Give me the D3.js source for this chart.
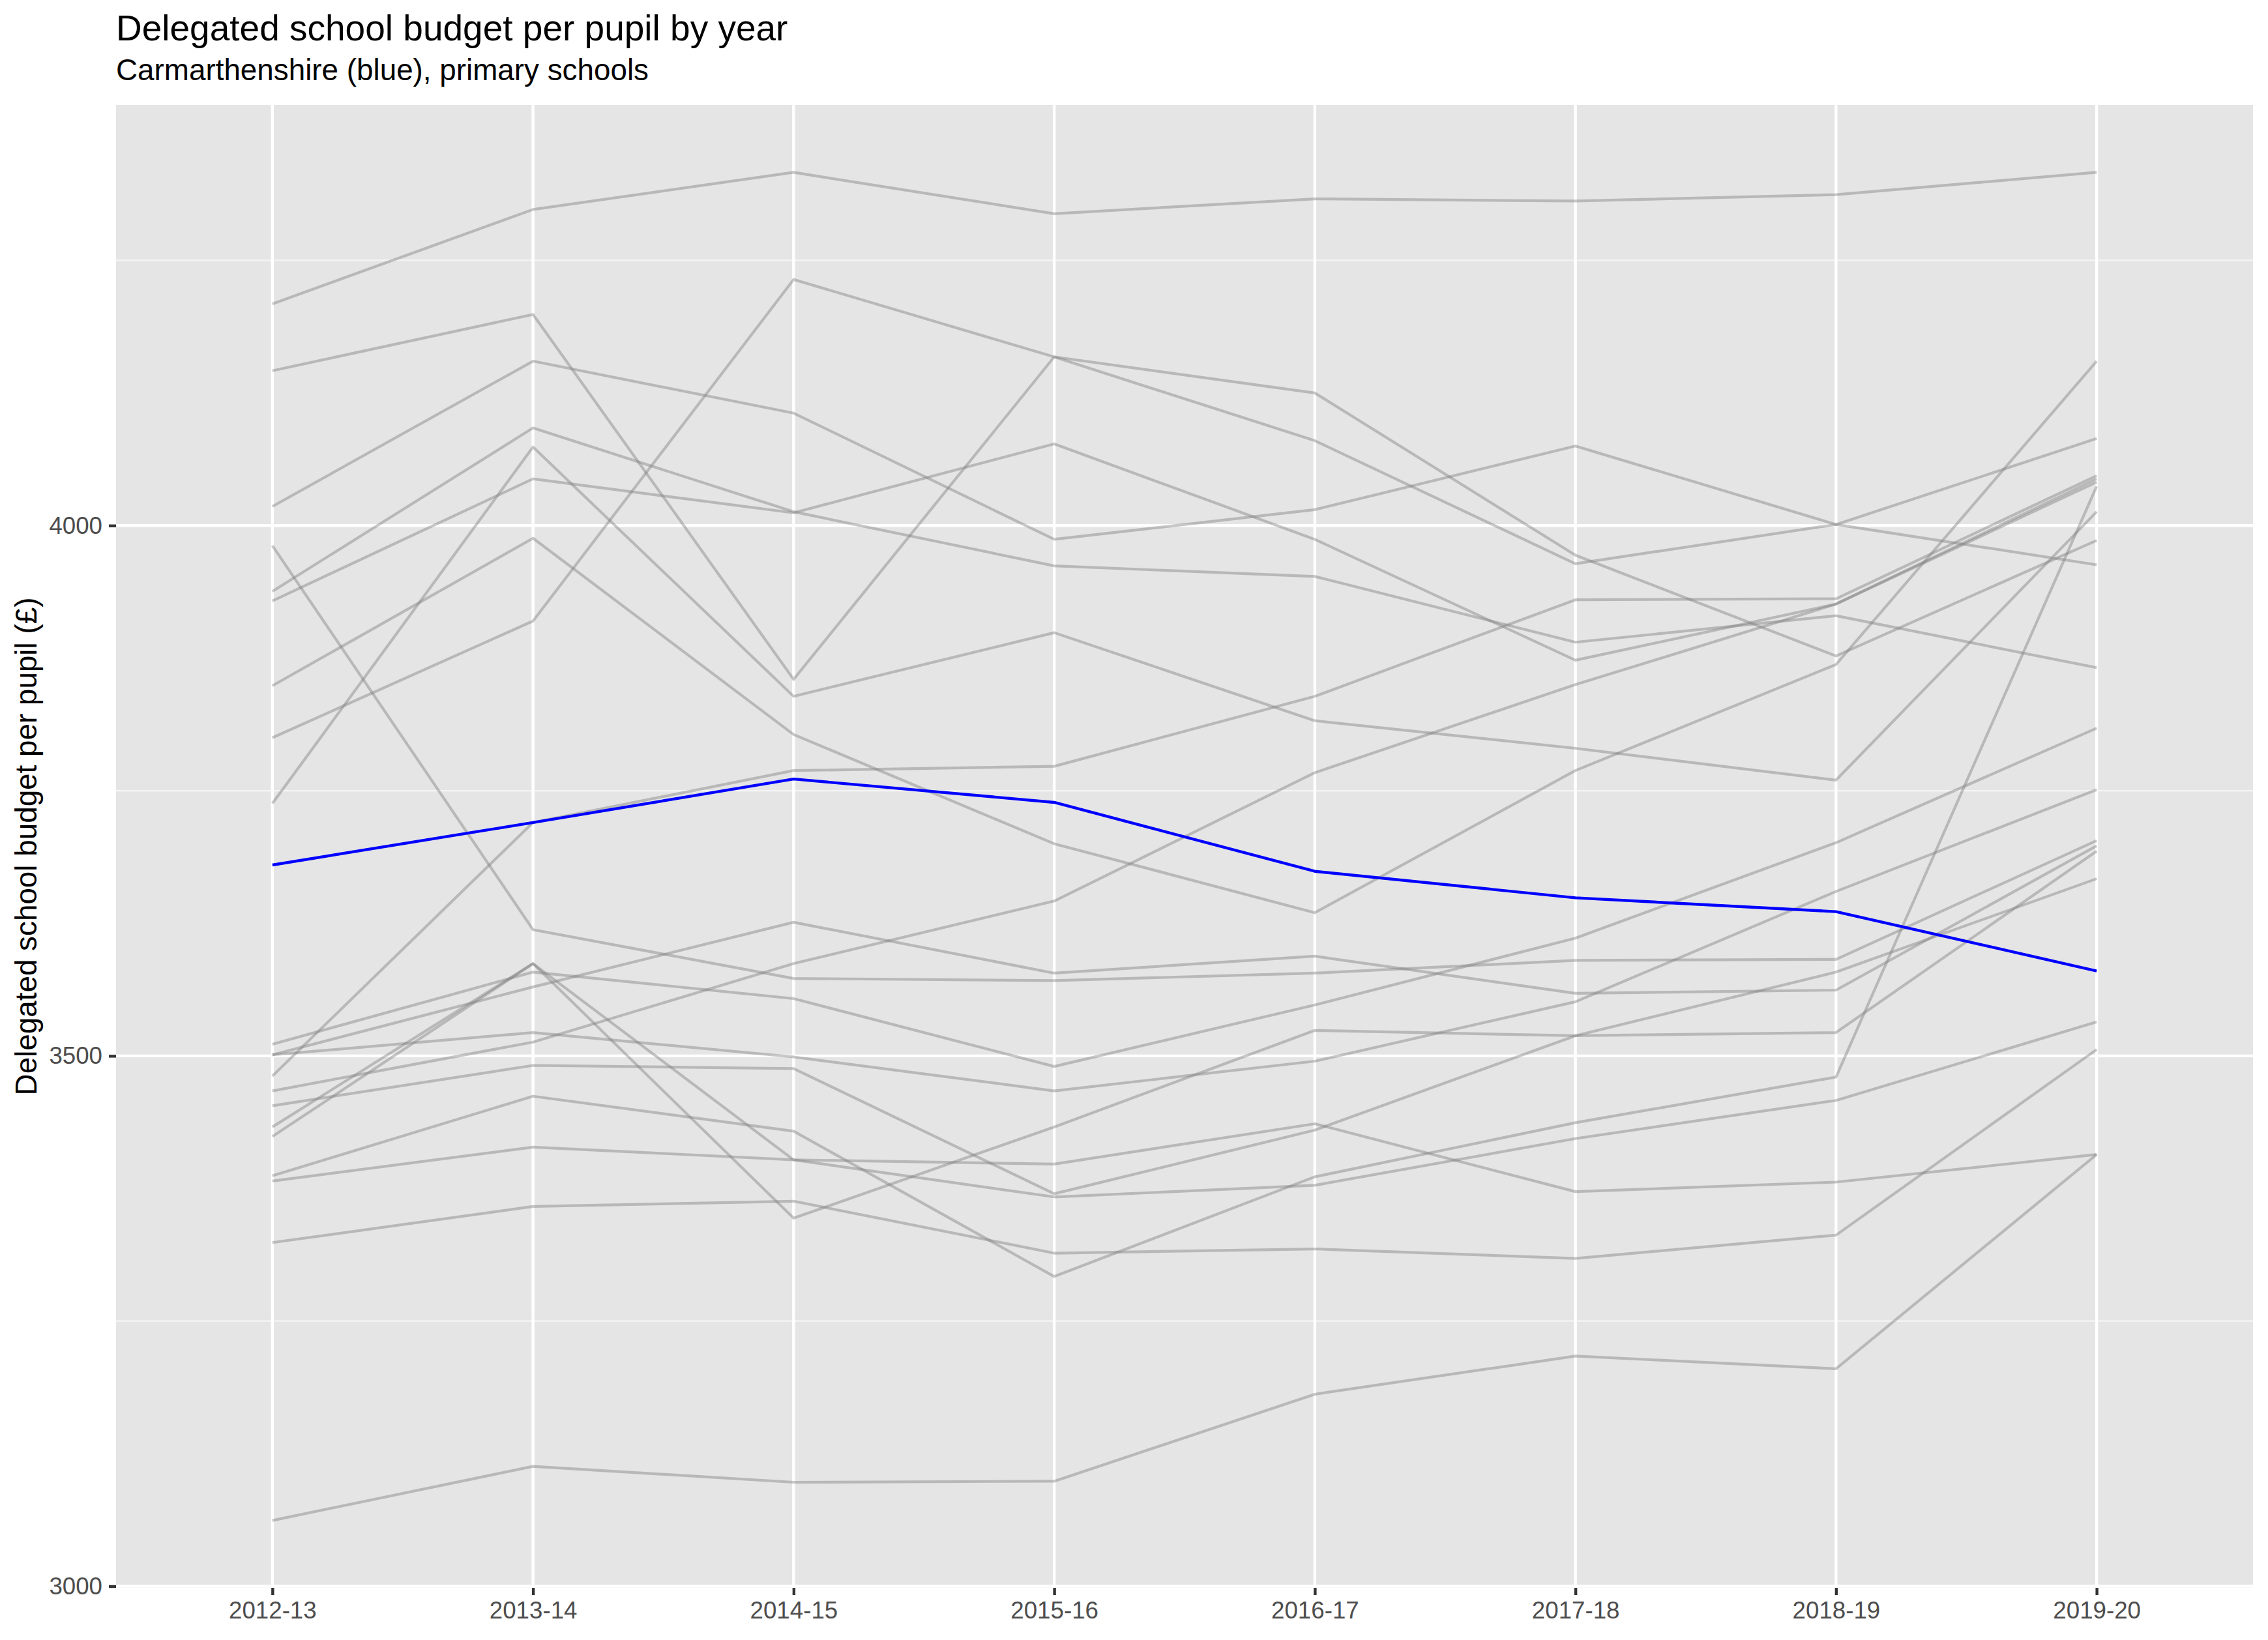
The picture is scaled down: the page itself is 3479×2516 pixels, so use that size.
<!DOCTYPE html>
<html>
<head>
<meta charset="utf-8">
<script src="https://cdn.jsdelivr.net/npm/d3@7"></script>
<style>
  html, body { margin: 0; padding: 0; background: #ffffff; }
  svg { display: block; }
</style>
</head>
<body>
<script>
// ---------- data ----------
const years = ["2012-13", "2013-14", "2014-15", "2015-16", "2016-17", "2017-18", "2018-19", "2019-20"];

// Carmarthenshire (highlighted in blue)
const carmarthenshire = [3680, 3720, 3761, 3739, 3674, 3649, 3636, 3580];

// Other Welsh local authorities (grey)
const otherAuthorities = [
  [4209, 4298, 4333, 4294, 4308, 4306, 4312, 4333],
  [4146, 4199, 3855, 4159, 4125, 3972, 3877, 3986],
  [4018, 4155, 4106, 3987, 4015, 4075, 4001, 3963],
  [3938, 4092, 4013, 3962, 3952, 3890, 3915, 3866],
  [3929, 4044, 4012, 4077, 3987, 3873, 3926, 4044],
  [3738, 4074, 3839, 3899, 3816, 3790, 3760, 4013],
  [3849, 3988, 3803, 3700, 3635, 3769, 3869, 4155],
  [3800, 3910, 4232, 4159, 4080, 3964, 4001, 4082],
  [3481, 3720, 3769, 3773, 3839, 3930, 3931, 4047],
  [3467, 3513, 3587, 3646, 3767, 3850, 3926, 4041],
  [3981, 3619, 3573, 3571, 3578, 3590, 3591, 3703],
  [3511, 3579, 3554, 3490, 3548, 3611, 3701, 3809],
  [3501, 3565, 3626, 3578, 3594, 3559, 3562, 3698],
  [3501, 3522, 3499, 3467, 3495, 3551, 3655, 3751],
  [3453, 3491, 3488, 3370, 3430, 3519, 3579, 3667],
  [3424, 3587, 3347, 3433, 3524, 3519, 3522, 3693],
  [3433, 3587, 3402, 3367, 3378, 3422, 3458, 3532],
  [3387, 3462, 3429, 3292, 3386, 3437, 3480, 4037],
  [3382, 3414, 3402, 3398, 3436, 3372, 3381, 3407],
  [3324, 3358, 3363, 3314, 3318, 3309, 3331, 3506],
  [3062, 3113, 3098, 3099, 3181, 3217, 3205, 3407]
];

const yTicks = [3000, 3500, 4000];
const yMinorTicks = [3250, 3750, 4250];

const titleText = "Delegated school budget per pupil by year";
const subtitleText = "Carmarthenshire (blue), primary schools";
const yAxisTitle = "Delegated school budget per pupil (£)";

// ---------- layout ----------
const W = 3479, H = 2516;
const panel = { left: 178, right: 3456, top: 161, bottom: 2436 };
const FONT = "'Liberation Sans', Arial, Helvetica, sans-serif";

const svg = d3.select("body").append("svg")
  .attr("width", W).attr("height", H)
  .attr("viewBox", `0 0 ${W} ${H}`);

svg.append("rect").attr("width", W).attr("height", H).attr("fill", "#ffffff");

// scales
const allValues = otherAuthorities.flat().concat(carmarthenshire);
const vMin = d3.min(allValues), vMax = d3.max(allValues);
const pad = (vMax - vMin) * 0.05;

const x = d3.scalePoint().domain(years).range([panel.left, panel.right]).padding(0.6);
const y = d3.scaleLinear().domain([vMin - pad, vMax + pad]).range([panel.bottom, panel.top]);

// panel background
svg.append("rect")
  .attr("x", panel.left).attr("y", panel.top)
  .attr("width", panel.right - panel.left).attr("height", panel.bottom - panel.top)
  .attr("fill", "#E5E5E5");

// grid
const grid = svg.append("g");
grid.selectAll("line.minor").data(yMinorTicks).join("line")
  .attr("class", "minor")
  .attr("x1", panel.left).attr("x2", panel.right)
  .attr("y1", d => y(d)).attr("y2", d => y(d))
  .attr("stroke", "#F5F5F5").attr("stroke-width", 2.2);
grid.selectAll("line.majy").data(yTicks).join("line")
  .attr("class", "majy")
  .attr("x1", panel.left).attr("x2", panel.right)
  .attr("y1", d => y(d)).attr("y2", d => y(d))
  .attr("stroke", "#ffffff").attr("stroke-width", 4.4);
grid.selectAll("line.majx").data(years).join("line")
  .attr("class", "majx")
  .attr("x1", d => x(d)).attr("x2", d => x(d))
  .attr("y1", panel.top).attr("y2", panel.bottom)
  .attr("stroke", "#ffffff").attr("stroke-width", 4.4);

// lines
const line = d3.line()
  .x((d, i) => x(years[i]))
  .y(d => y(d));

svg.append("clipPath").attr("id", "panelclip")
  .append("rect").attr("x", panel.left).attr("y", panel.top)
  .attr("width", panel.right - panel.left).attr("height", panel.bottom - panel.top);

const lines = svg.append("g").attr("clip-path", "url(#panelclip)");
lines.selectAll("path.other").data(otherAuthorities).join("path")
  .attr("class", "other")
  .attr("d", line)
  .attr("fill", "none")
  .attr("stroke", "#7F7F7F")
  .attr("stroke-opacity", 0.44)
  .attr("stroke-width", 4.2)
  .attr("stroke-linejoin", "round");

lines.append("path")
  .datum(carmarthenshire)
  .attr("d", line)
  .attr("fill", "none")
  .attr("stroke", "#0000FF")
  .attr("stroke-width", 4.4)
  .attr("stroke-linejoin", "round");

// axes
const tickLen = 11;
const xAxis = d3.axisBottom(x).tickSize(tickLen).tickPadding(10);
const gx = svg.append("g").attr("transform", `translate(0,${panel.bottom})`).call(xAxis);
gx.select(".domain").remove();
gx.selectAll(".tick line").attr("stroke", "#333333").attr("stroke-width", 4.4);
gx.selectAll(".tick text")
  .attr("fill", "#4D4D4D")
  .style("font-family", FONT)
  .style("font-size", "36.7px");

const yAxis = d3.axisLeft(y).tickValues(yTicks).tickFormat(d3.format("d")).tickSize(tickLen).tickPadding(10);
const gy = svg.append("g").attr("transform", `translate(${panel.left},0)`).call(yAxis);
gy.select(".domain").remove();
gy.selectAll(".tick line").attr("stroke", "#333333").attr("stroke-width", 4.4);
gy.selectAll(".tick text")
  .attr("fill", "#4D4D4D")
  .style("font-family", FONT)
  .style("font-size", "36.7px");

// axis title
svg.append("text")
  .attr("transform", `translate(56,${(panel.top + panel.bottom) / 2}) rotate(-90)`)
  .attr("text-anchor", "middle")
  .style("font-family", FONT)
  .style("font-size", "45.8px")
  .attr("fill", "#000000")
  .text(yAxisTitle);

// titles
svg.append("text")
  .attr("x", panel.left).attr("y", 62)
  .style("font-family", FONT)
  .style("font-size", "55px")
  .attr("fill", "#000000")
  .text(titleText);

svg.append("text")
  .attr("x", panel.left).attr("y", 123)
  .style("font-family", FONT)
  .style("font-size", "45.8px")
  .attr("fill", "#000000")
  .text(subtitleText);
</script>
</body>
</html>
